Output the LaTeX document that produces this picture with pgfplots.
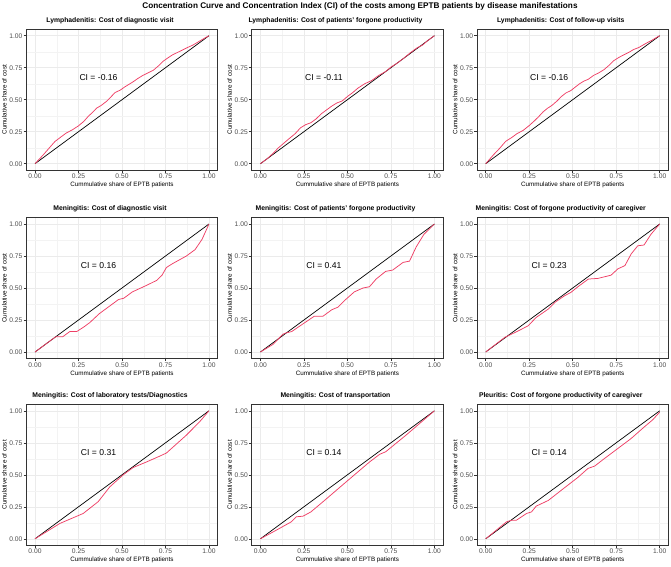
\documentclass[border=0pt]{standalone}
\usepackage{pgfplots}
\pgfplotsset{compat=1.18}
\usepackage{fontspec}
\setmainfont{Liberation Sans}
\definecolor{ccred}{RGB}{238,64,102}
\definecolor{grey20}{RGB}{51,51,51}
\definecolor{grey30}{RGB}{77,77,77}
\definecolor{grey92}{RGB}{235,235,235}
\definecolor{grey95}{RGB}{243,243,243}
\pgfplotsset{
 panel/.style={
  anchor=north west, scale only axis, width=191.4pt, height=140.8pt,
  xmin=-0.05,xmax=1.05,ymin=-0.05,ymax=1.05,
  xtick={0,0.25,0.5,0.75,1}, ytick={0,0.25,0.5,0.75,1},
  minor xtick={0.125,0.375,0.625,0.875}, minor ytick={0.125,0.375,0.625,0.875},
  grid=both, major grid style={grey92, line width=0.5pt}, minor grid style={grey95, line width=0.3pt},
  axis line style={grey20, line width=0.6pt},
  tick align=outside, xtick pos=bottom, ytick pos=left,
  major tick length=2.75pt, minor tick length=0pt,
  every tick/.style={grey20, line width=0.5pt},
  tick label style={font=\fontsize{6.7}{8}\selectfont, text=grey30, inner sep=1pt},
  /pgf/number format/fixed, /pgf/number format/fixed zerofill, /pgf/number format/precision=2,
  /pgf/number format/assume math mode=true,
  xlabel={Cummulative share of EPTB patients}, ylabel={Cumulative share of cost},
  label style={font=\fontsize{6.3}{7.5}\selectfont},
  xlabel style={at={(axis description cs:0.5,0)}, anchor=base, yshift=-16.7pt},
  ylabel style={at={(axis description cs:-0.103,0.5)}, anchor=base},
  title style={at={(axis description cs:0.4375,1)}, anchor=base, yshift=1pt, font=\fontsize{6.8}{8}\selectfont\bfseries},
 },
 diag/.style={black, line width=0.7pt},
 cc/.style={ccred, line width=0.75pt},
}
\newcommand{\ci}[1]{\node[font=\fontsize{8.6}{10}\selectfont] at (axis cs:0.365,0.675) {CI = #1};}
\begin{document}
\begin{tikzpicture}
\path[use as bounding box] (0,0) rectangle (671pt,-566pt);
\node[font=\fontsize{8.2}{10}\selectfont\bfseries] at (360pt,-6pt) {Concentration Curve and Concentration Index (CI) of the costs among EPTB patients by disease manifestations};

% Row 1
\begin{axis}[panel, at={(26.3pt,-29.3pt)}, title={Lymphadenitis: Cost of diagnostic visit}]
\addplot[diag] coordinates {(0,0)(1,1)};
\addplot[cc] coordinates {(0,0)(0.048,0.07)(0.08,0.12)(0.115,0.174)(0.15,0.21)(0.18,0.24)(0.215,0.265)(0.25,0.296)(0.28,0.33)(0.306,0.37)(0.33,0.40)(0.354,0.434)(0.38,0.455)(0.41,0.486)(0.435,0.52)(0.46,0.556)(0.49,0.575)(0.516,0.60)(0.54,0.62)(0.564,0.64)(0.59,0.665)(0.62,0.69)(0.65,0.71)(0.68,0.73)(0.71,0.765)(0.736,0.80)(0.765,0.828)(0.79,0.85)(0.82,0.87)(0.85,0.89)(0.88,0.91)(0.908,0.927)(0.93,0.945)(0.956,0.966)(0.98,0.985)(1,1)};
\ci{-0.16}
\end{axis}

\begin{axis}[panel, at={(251.7pt,-29.3pt)}, title={Lymphadenitis: Cost of patients' forgone productivity}]
\addplot[diag] coordinates {(0,0)(1,1)};
\addplot[cc] coordinates {(0,0)(0.04,0.04)(0.08,0.09)(0.1,0.12)(0.13,0.155)(0.16,0.19)(0.2,0.235)(0.23,0.28)(0.26,0.305)(0.29,0.32)(0.32,0.35)(0.35,0.39)(0.38,0.42)(0.41,0.45)(0.44,0.475)(0.47,0.49)(0.5,0.525)(0.53,0.555)(0.56,0.59)(0.6,0.625)(0.64,0.65)(0.68,0.69)(0.72,0.72)(0.75,0.755)(0.78,0.78)(0.82,0.82)(0.86,0.865)(0.9,0.905)(0.93,0.925)(0.96,0.96)(1,1)};
\ci{-0.11}
\end{axis}

\begin{axis}[panel, at={(477pt,-29.3pt)}, title={Lymphadenitis: Cost of follow-up visits}]
\addplot[diag] coordinates {(0,0)(1,1)};
\addplot[cc] coordinates {(0,0)(0.045,0.07)(0.08,0.12)(0.115,0.175)(0.15,0.205)(0.18,0.235)(0.215,0.26)(0.25,0.298)(0.28,0.335)(0.306,0.37)(0.33,0.405)(0.354,0.432)(0.38,0.455)(0.41,0.49)(0.435,0.525)(0.46,0.552)(0.49,0.572)(0.516,0.60)(0.54,0.625)(0.564,0.645)(0.59,0.66)(0.62,0.69)(0.65,0.71)(0.68,0.735)(0.71,0.77)(0.736,0.805)(0.765,0.83)(0.79,0.848)(0.82,0.868)(0.85,0.892)(0.88,0.908)(0.908,0.93)(0.93,0.947)(0.956,0.965)(0.98,0.985)(1,1)};
\ci{-0.16}
\end{axis}

% Row 2
\begin{axis}[panel, at={(26.3pt,-217.6pt)}, title={Meningitis: Cost of diagnostic visit}]
\addplot[diag] coordinates {(0,0)(1,1)};
\addplot[cc] coordinates {(0,0)(0.06,0.06)(0.12,0.12)(0.16,0.12)(0.2,0.16)(0.24,0.16)(0.28,0.195)(0.315,0.23)(0.37,0.30)(0.43,0.36)(0.48,0.41)(0.51,0.42)(0.56,0.47)(0.64,0.52)(0.70,0.56)(0.73,0.60)(0.755,0.66)(0.79,0.69)(0.83,0.72)(0.87,0.75)(0.92,0.80)(0.96,0.88)(1,1)};
\ci{0.16}
\end{axis}

\begin{axis}[panel, at={(251.7pt,-217.6pt)}, title={Meningitis: Cost of patients' forgone productivity}]
\addplot[diag] coordinates {(0,0)(1,1)};
\addplot[cc] coordinates {(0,0)(0.073,0.06)(0.13,0.14)(0.15,0.15)(0.18,0.16)(0.245,0.22)(0.31,0.28)(0.36,0.28)(0.41,0.33)(0.445,0.35)(0.49,0.41)(0.54,0.47)(0.59,0.50)(0.627,0.51)(0.665,0.57)(0.72,0.63)(0.76,0.64)(0.82,0.70)(0.857,0.71)(0.895,0.82)(0.94,0.92)(1,1)};
\ci{0.41}
\end{axis}

\begin{axis}[panel, at={(477pt,-217.6pt)}, title={Meningitis: Cost of forgone productivity of caregiver}]
\addplot[diag] coordinates {(0,0)(1,1)};
\addplot[cc] coordinates {(0,0)(0.11,0.115)(0.18,0.16)(0.244,0.205)(0.29,0.27)(0.36,0.336)(0.40,0.39)(0.454,0.44)(0.49,0.466)(0.53,0.51)(0.59,0.57)(0.645,0.575)(0.72,0.60)(0.76,0.65)(0.80,0.675)(0.836,0.766)(0.874,0.83)(0.91,0.836)(0.95,0.92)(1,1)};
\ci{0.23}
\end{axis}

% Row 3
\begin{axis}[panel, at={(26.3pt,-404.4pt)}, title={Meningitis: Cost of laboratory tests/Diagnostics}]
\addplot[diag] coordinates {(0,0)(1,1)};
\addplot[cc] coordinates {(0,0)(0.143,0.12)(0.277,0.198)(0.363,0.29)(0.43,0.406)(0.507,0.50)(0.564,0.557)(0.64,0.60)(0.717,0.646)(0.755,0.67)(0.87,0.81)(0.946,0.914)(1,1)};
\ci{0.31}
\end{axis}

\begin{axis}[panel, at={(251.7pt,-404.4pt)}, title={Meningitis: Cost of transportation}]
\addplot[diag] coordinates {(0,0)(1,1)};
\addplot[cc] coordinates {(0,0)(0.092,0.068)(0.178,0.133)(0.206,0.172)(0.245,0.177)(0.29,0.21)(0.36,0.29)(0.493,0.445)(0.627,0.60)(0.685,0.66)(0.72,0.68)(0.837,0.81)(1,1)};
\ci{0.14}
\end{axis}

\begin{axis}[panel, at={(477pt,-404.4pt)}, title={Pleuritis: Cost of forgone productivity of caregiver}]
\addplot[diag] coordinates {(0,0)(1,1)};
\addplot[cc] coordinates {(0,0)(0.12,0.133)(0.15,0.146)(0.177,0.146)(0.235,0.198)(0.263,0.21)(0.29,0.255)(0.36,0.30)(0.435,0.38)(0.53,0.48)(0.588,0.55)(0.626,0.568)(0.683,0.628)(0.76,0.706)(0.836,0.784)(0.912,0.875)(0.96,0.93)(1,0.99)};
\ci{0.14}
\end{axis}
\end{tikzpicture}
\end{document}
